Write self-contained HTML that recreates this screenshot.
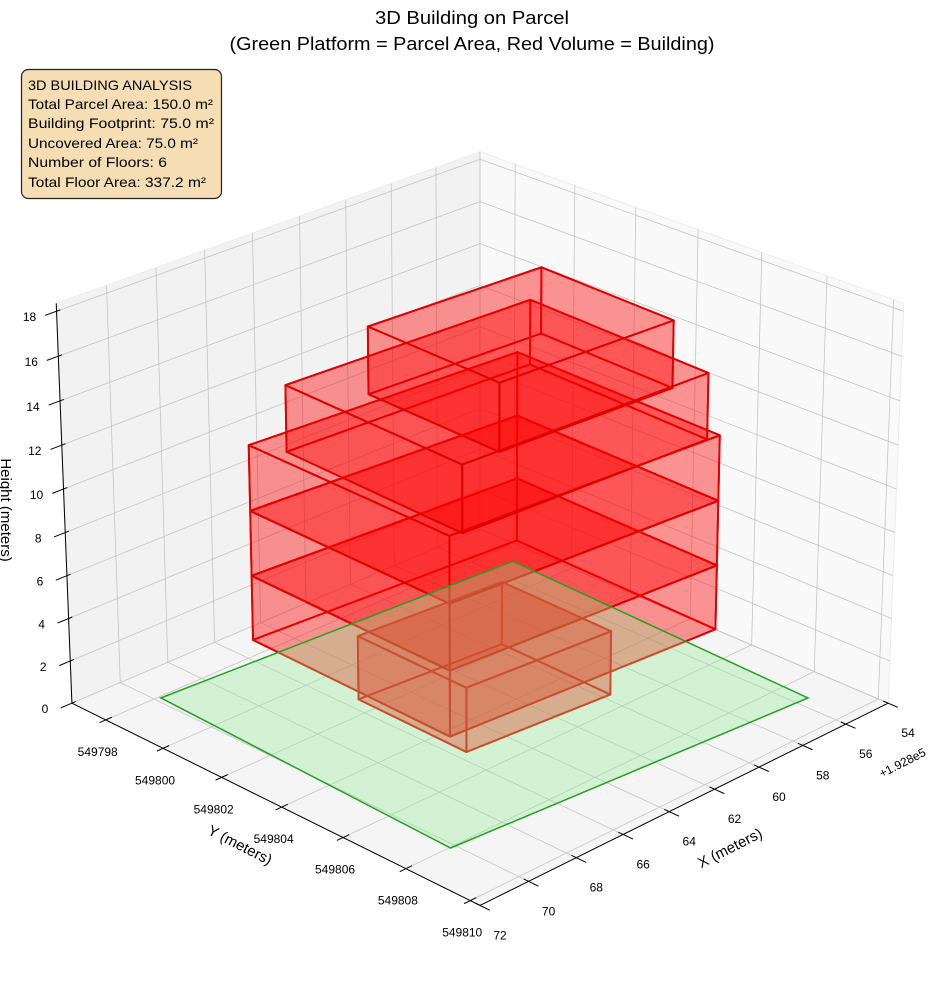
<!DOCTYPE html>
<html><head><meta charset="utf-8"><style>
html,body{margin:0;padding:0;background:#fff;}
svg{display:block;font-family:"Liberation Sans","Noto Sans CJK SC",sans-serif;}
</style></head><body>
<svg id="chart" width="944" height="992" viewBox="0 0 944 992">
<g id="panes"></g>
<g id="grid"></g>
<g id="axes"></g>
<g id="marks"></g>
<text x="472" y="24" text-anchor="middle" font-size="18" textLength="194" lengthAdjust="spacingAndGlyphs">3D Building on Parcel</text>
<text x="472" y="50" text-anchor="middle" font-size="18" textLength="485" lengthAdjust="spacingAndGlyphs">(Green Platform = Parcel Area, Red Volume = Building)</text>
<g>
<rect x="21.5" y="69.5" width="200" height="129" rx="7" fill="#f5deb3" stroke="#222" stroke-width="1.2"/>
<text x="28" y="90" font-size="14" textLength="164" lengthAdjust="spacingAndGlyphs">3D BUILDING ANALYSIS</text>
<text x="28" y="109" font-size="14" textLength="185" lengthAdjust="spacingAndGlyphs">Total Parcel Area: 150.0 m²</text>
<text x="28" y="128" font-size="14" textLength="186" lengthAdjust="spacingAndGlyphs">Building Footprint: 75.0 m²</text>
<text x="28" y="148" font-size="14" textLength="170" lengthAdjust="spacingAndGlyphs">Uncovered Area: 75.0 m²</text>
<text x="28" y="167" font-size="14" textLength="139" lengthAdjust="spacingAndGlyphs">Number of Floors: 6</text>
<text x="28" y="187" font-size="14" textLength="178" lengthAdjust="spacingAndGlyphs">Total Floor Area: 337.2 m²</text>
</g>
</svg>
<script>
const xLim = [54, 72];
const yLim = [549796.8, 549810.3];
const zLim = [0, 18.35];
const xTicks = [54, 56, 58, 60, 62, 64, 66, 68, 70, 72];
const yTicks = [549798, 549800, 549802, 549804, 549806, 549808, 549810];
const zTicks = [0, 2, 4, 6, 8, 10, 12, 14, 16, 18];
// parcel corners: left, front, right, back
const parcelX = [69.8, 70.2, 55.5, 55.0];
const parcelY = [549798.07, 549808.03, 549808.8, 549798.7];
// floor footprints (corners: left, front, right, back)
const floorCornerX = [
  [65.5, 65.6, 59.7, 59.6],
  [67.98, 68.2, 57.3, 57.08],
  [67.98, 68.2, 57.3, 57.08],
  [67.98, 68.2, 57.3, 57.08],
  [67.5, 67.8, 57.8, 57.5],
  [66.2, 66.4, 59.4, 59.2]
];
const floorCornerY = [
  [549801.4, 549805.06, 549805.4, 549801.74],
  [549799.82, 549806.5, 549807.05, 549800.37],
  [549799.82, 549806.5, 549807.05, 549800.37],
  [549799.82, 549806.5, 549807.05, 549800.37],
  [549800.7, 549806.6, 549807.0, 549801.1],
  [549802.4, 549806.7, 549807.0, 549802.7]
];
const floorZ0 = [0, 3, 6, 9, 12, 15];
const floorZ1 = [3, 6, 9, 12, 15, 18];

const NS = "http://www.w3.org/2000/svg";
const E = 25 * Math.PI / 180, A = 45 * Math.PI / 180;
const D = 8.4, SC = 588, CX = 480, CY = 507;
function P(X, Y, Z) {
  const a = (X - xLim[0]) / (xLim[1] - xLim[0]) - 0.5;
  const b = (Y - yLim[0]) / (yLim[1] - yLim[0]) - 0.5;
  const c = ((Z - zLim[0]) / (zLim[1] - zLim[0])) * 0.75 - 0.375;
  const r = -Math.sin(A) * a + Math.cos(A) * b;
  const u = -Math.sin(E) * (Math.cos(A) * a + Math.sin(A) * b) + Math.cos(E) * c;
  const d = Math.cos(E) * (Math.cos(A) * a + Math.sin(A) * b) + Math.sin(E) * c;
  const f = D / (D - d);
  return [CX + SC * f * r, CY - SC * f * u, d];
}
function mk(tag, attrs, parent) {
  const el = document.createElementNS(NS, tag);
  for (const k in attrs) el.setAttribute(k, attrs[k]);
  parent.appendChild(el);
  return el;
}
function pts(arr) { return arr.map(p => p[0].toFixed(1) + "," + p[1].toFixed(1)).join(" "); }
const panes = document.getElementById("panes");
const grid = document.getElementById("grid");
const axes = document.getElementById("axes");
const marks = document.getElementById("marks");
const [x0, x1] = xLim, [y0, y1] = yLim, [z0, z1] = zLim;

let el;
el = mk("polygon", {points: pts([P(x0,y0,z0),P(x1,y0,z0),P(x1,y1,z0),P(x0,y1,z0)]), fill: "#f5f5f5", stroke: "#ececec"}, panes);


el = mk("polygon", {points: pts([P(x0,y0,z0),P(x1,y0,z0),P(x1,y0,z1),P(x0,y0,z1)]), fill: "#f2f2f2", stroke: "#ececec"}, panes);


el = mk("polygon", {points: pts([P(x0,y0,z0),P(x0,y1,z0),P(x0,y1,z1),P(x0,y0,z1)]), fill: "#f9f9f9", stroke: "#ececec"}, panes);



function gl(p, q, name) {
  const l = mk("line", {x1: p[0], y1: p[1], x2: q[0], y2: q[1], stroke: "#c4c4c4", "stroke-width": 0.8}, grid);
  
  
}
xTicks.forEach(x => { gl(P(x,y0,z0), P(x,y1,z0), "x-grid-floor"); gl(P(x,y0,z0), P(x,y0,z1), "x-grid-wall"); });
yTicks.forEach(y => { gl(P(x1,y,z0), P(x0,y,z0), "y-grid-floor"); gl(P(x0,y,z0), P(x0,y,z1), "y-grid-wall"); });
zTicks.forEach(z => { gl(P(x1,y0,z), P(x0,y0,z), "z-grid-left"); gl(P(x0,y0,z), P(x0,y1,z), "z-grid-right"); });

function al(p, q, name) {
  const l = mk("line", {x1: p[0], y1: p[1], x2: q[0], y2: q[1], stroke: "#000", "stroke-width": 1}, axes);
  
  
}
function tx(x, y, s, name, opts) {
  const t = mk("text", Object.assign({x: x, y: y, "font-size": 12, "text-anchor": "middle"}, opts || {}), axes);
  t.textContent = s;
  
  
  return t;
}
al(P(x0,y1,z0), P(x1,y1,z0), "x-axis-line");
al(P(x1,y0,z0), P(x1,y1,z0), "y-axis-line");
al(P(x1,y0,z0), P(x1,y0,z1), "z-axis-line");
xTicks.forEach(x => {
  al(P(x,y1-0.15,z0), P(x,y1+0.3,z0), "x-tick");
  const p = P(x,y1,z0);
  tx(p[0]+20, p[1]+34, String(x), "x-tick-label");
});
yTicks.forEach(y => {
  al(P(x1-0.25,y,z0), P(x1+0.25,y,z0), "y-tick");
  const p = P(x1,y,z0);
  tx(p[0]-8, p[1]+36, String(y), "y-tick-label");
});
zTicks.forEach(z => {
  al(P(x1+0.45,y0,z), P(x1-0.15,y0,z), "z-tick");
  const p = P(x1,y0,z);
  tx(p[0]-27, p[1]+10, String(z), "z-tick-label");
});
tx(902, 767, "+1.928e5", "x-offset-label", {transform: "rotate(-27 902 762)"});
tx(730, 853, "X (meters)", "x-axis-title", {"font-size": 15, transform: "rotate(-27 730 848)"});
tx(240, 850, "Y (meters)", "y-axis-title", {"font-size": 15, transform: "rotate(27 240 845)"});
tx(6, 515, "Height (meters)", "z-axis-title", {"font-size": 15, transform: "rotate(90 6 510)"});

const faces = [];
for (let i = 0; i < floorCornerX.length; i++) {
  const cx = floorCornerX[i], cy = floorCornerY[i], c0 = floorZ0[i], c1 = floorZ1[i];
  const V = [];
  for (let k = 0; k < 4; k++) V.push([cx[k], cy[k], c0]);
  for (let k = 0; k < 4; k++) V.push([cx[k], cy[k], c1]);
  const F = [[0,1,2,3],[4,5,6,7],[0,1,5,4],[1,2,6,5],[2,3,7,6],[3,0,4,7]];
  F.forEach(f => {
    const pp = f.map(k => P(V[k][0], V[k][1], V[k][2]));
    const dep = pp.reduce((s, q) => s + q[2], 0) / 4;
    faces.push({pp: pp, dep: dep, floor: i});
  });
}
faces.sort((m, n) => m.dep - n.dep);
faces.forEach(f => {
  const g = mk("polygon", {points: pts(f.pp), fill: "rgba(255,0,0,0.23)", stroke: "#e00000", "stroke-width": 1.9, "stroke-linejoin": "round"}, marks);
  
  
});
const parcelPts = parcelX.map((x, k) => P(x, parcelY[k], 0));
const parcel = mk("polygon", {points: pts(parcelPts), fill: "rgba(144,238,144,0.33)", stroke: "#22a022", "stroke-width": 1.5}, marks);


</script>
</body></html>
